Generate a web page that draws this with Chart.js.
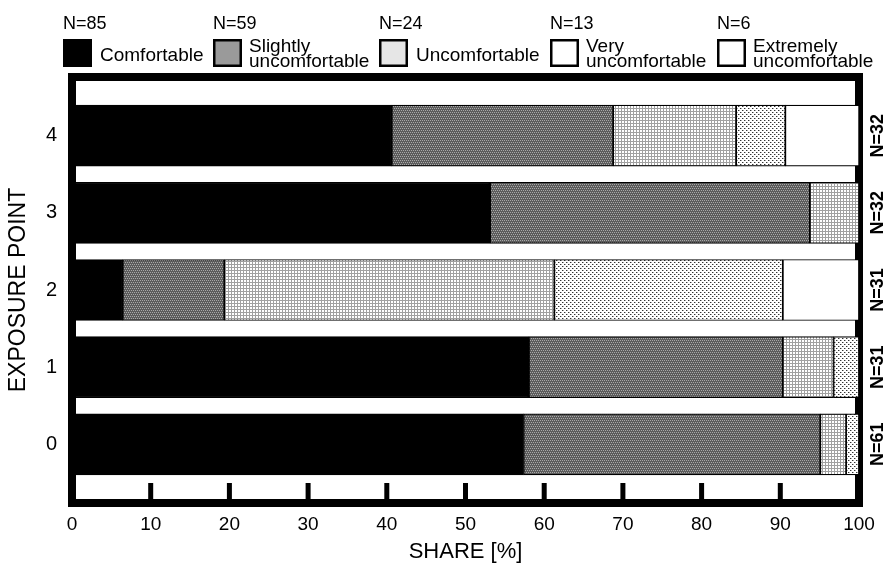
<!DOCTYPE html>
<html><head><meta charset="utf-8">
<script src="https://cdn.jsdelivr.net/npm/chart.js@4.4.1/dist/chart.umd.min.js"></script>
<style>html,body{margin:0;padding:0;background:#fff}canvas{display:block}</style>
</head><body>
<canvas id="c" width="893" height="573"></canvas>
<script>
// ---- data ----
const categories = ['0', '1', '2', '3', '4'];
const seriesNames = [['Comfortable'], ['Slightly', 'uncomfortable'], ['Uncomfortable'], ['Very', 'uncomfortable'], ['Extremely', 'uncomfortable']];
const seriesCounts = [85, 59, 24, 13, 6];
const pointCounts = [61, 31, 31, 32, 32];
const comfortable = [57.38, 58.06, 6.45, 53.13, 40.63];
const slightly = [37.70, 32.26, 12.90, 40.63, 28.13];
const uncomfortable = [3.28, 6.45, 41.94, 6.25, 15.63];
const veryUncomfortable = [1.64, 3.23, 29.03, 0, 6.25];
const extremelyUncomfortable = [0, 0, 9.68, 0, 9.38];
const xTickValues = [0, 10, 20, 30, 40, 50, 60, 70, 80, 90, 100];
const yTickValues = [0, 1, 2, 3, 4];

const FONT = "'Liberation Sans', Arial, Helvetica, sans-serif";

function tile(w, h, bg, pixels) {
  const c = document.createElement('canvas');
  c.width = w; c.height = h;
  const g = c.getContext('2d');
  g.fillStyle = bg; g.fillRect(0, 0, w, h);
  pixels.forEach(p => { g.fillStyle = p[2]; g.fillRect(p[0], p[1], 1, 1); });
  return g.createPattern(c, 'repeat');
}
const pat = {
  slightly: tile(4, 4, '#5c5c5c', [[0,0,'#a8a8a8'],[2,0,'#a8a8a8'],[1,2,'#a8a8a8'],[3,2,'#a8a8a8']]),
  uncomf: tile(3, 3, '#ffffff', [[0,0,'#a0a0a0'],[1,0,'#a0a0a0'],[2,0,'#a0a0a0'],[0,1,'#a0a0a0'],[0,2,'#a0a0a0']]),
  very: tile(4, 4, '#ffffff', [[0,0,'#333333'],[2,2,'#333333'],[1,0,'#aaaaaa'],[3,2,'#aaaaaa']])
};
const barFills = ['#000000', pat.slightly, pat.uncomf, pat.very, '#ffffff'];
const legendFills = ['#000000', '#9a9a9a', '#e6e6e6', '#ffffff', '#ffffff'];
const seriesData = [comfortable, slightly, uncomfortable, veryUncomfortable, extremelyUncomfortable];

const datasets = seriesData.map((d, i) => ({
  label: seriesNames[i].join(' '),
  data: d,
  backgroundColor: barFills[i],
  borderColor: '#000',
  borderWidth: 1.2,
  borderSkipped: false,
  barThickness: 61
}));

const framePlugin = {
  id: 'frame',
  beforeDraw(chart) {
    const ctx = chart.ctx;
    ctx.save(); ctx.fillStyle = '#fff'; ctx.fillRect(0, 0, chart.width, chart.height); ctx.restore();
  },
  beforeDatasetsDraw(chart) {
    const {ctx, chartArea: a, scales} = chart;
    ctx.save();
    ctx.strokeStyle = '#000';
    ctx.lineWidth = 8;
    ctx.strokeRect(a.left, a.top, a.right - a.left, a.bottom - a.top);
    ctx.fillStyle = '#000';
    xTickValues.forEach(v => {
      if (v === 0 || v === 100) return;
      const x = scales.x.getPixelForValue(v);
      ctx.fillRect(x - 2.5, a.bottom - 20, 5, 20);
    });
    ctx.restore();
  },
  afterDraw(chart) {
    const {ctx, chartArea: a, scales} = chart;
    ctx.save();
    // right-side N labels
    ctx.fillStyle = '#000';
    ctx.font = 'bold 18px ' + FONT;
    ctx.textAlign = 'center';
    ctx.textBaseline = 'middle';
    categories.forEach((c, i) => {
      const y = scales.y.getPixelForValue(+c);
      ctx.save();
      ctx.translate(a.right + 18, y);
      ctx.rotate(-Math.PI / 2);
      ctx.fillText('N=' + pointCounts[i], 0, 1);
      ctx.restore();
    });
    // legend
    const xs = [63, 213, 379, 550, 717];
    ctx.textAlign = 'left';
    ctx.textBaseline = 'alphabetic';
    seriesNames.forEach((name, i) => {
      const x = xs[i];
      ctx.font = '18px ' + FONT;
      ctx.fillStyle = '#000';
      ctx.fillText('N=' + seriesCounts[i], x, 29);
      ctx.fillStyle = legendFills[i];
      ctx.fillRect(x, 39, 29, 28);
      ctx.lineWidth = 2.5;
      ctx.strokeStyle = '#000';
      ctx.strokeRect(x + 1.25, 40.25, 26.5, 25.5);
      ctx.fillStyle = '#000';
      ctx.font = '19px ' + FONT;
      if (name.length === 1) {
        ctx.fillText(name[0], x + 37, 61);
      } else {
        ctx.fillText(name[0], x + 36, 52);
        ctx.fillText(name[1], x + 36, 67);
      }
    });
    ctx.restore();
  }
};

new Chart(document.getElementById('c'), {
  type: 'bar',
  data: { labels: categories, datasets },
  options: {
    indexAxis: 'y',
    responsive: false,
    animation: false,
    layout: { padding: { top: 77, right: 34, left: 0, bottom: 0 } },
    plugins: { legend: { display: false }, tooltip: { enabled: false } },
    scales: {
      x: {
        type: 'linear', stacked: true, min: 0, max: 100, offset: false,
        afterBuildTicks(s) { s.ticks = xTickValues.map(v => ({ value: v })); },
        afterFit(s) { s.height = 70; },
        grid: { display: false, drawTicks: false, offset: false },
        border: { display: false },
        ticks: { color: '#000', font: { family: FONT, size: 19 }, padding: 10, maxRotation: 0 },
        title: { display: true, text: 'SHARE [%]', color: '#000', font: { family: FONT, size: 22 }, padding: { top: 0, bottom: 8 } }
      },
      y: {
        type: 'linear', stacked: true, min: -0.76, max: 4.76, offset: false,
        afterBuildTicks(s) { s.ticks = yTickValues.map(v => ({ value: v })); },
        afterFit(s) { s.width = 72; },
        grid: { display: false, drawTicks: false, offset: false },
        border: { display: false },
        ticks: { color: '#000', font: { family: FONT, size: 20 }, padding: 15, callback: v => categories[v] },
        title: { display: true, text: 'EXPOSURE POINT', color: '#000', font: { family: FONT, size: 23 }, padding: { top: 5, bottom: 0 } }
      }
    }
  },
  plugins: [framePlugin]
});
</script>
</body></html>
